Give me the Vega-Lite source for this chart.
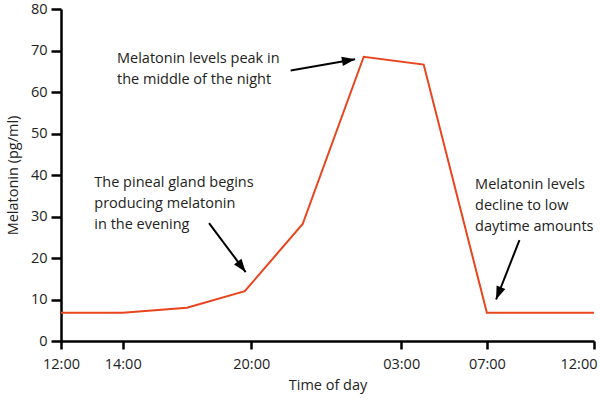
{
  "$schema": "https://vega.github.io/schema/vega-lite/v6.json",
  "autosize": "none",
  "width": 533,
  "height": 332,
  "padding": {"left": 61, "top": 9, "right": 6, "bottom": 59},
  "background": "white",
  "config": {
    "view": {"stroke": null},
    "font": "Open Sans"
  },
  "datasets": {
    "melatonin": [
      {"h": 0, "mel": 6.8},
      {"h": 2, "mel": 6.8},
      {"h": 5, "mel": 8.0},
      {"h": 7.7, "mel": 12.0},
      {"h": 10.4, "mel": 28.2},
      {"h": 13.25, "mel": 68.5},
      {"h": 16.05, "mel": 66.6},
      {"h": 19, "mel": 6.8},
      {"h": 24, "mel": 6.8}
    ],
    "arrows": [
      {"id": 1, "h": 9.84, "v": 65.2, "h2": 12.85, "v2": 67.9},
      {"id": 2, "h": 6.03, "v": 28.4, "h2": 7.74, "v2": 16.6},
      {"id": 3, "h": 20.52, "v": 24.3, "h2": 19.43, "v2": 10.0}
    ],
    "notes": [
      {"h": 1.815, "v": 67.0, "text": ["Melatonin levels peak in", "the middle of the night"]},
      {"h": 1.08, "v": 37.0, "text": ["The pineal gland begins", "producing melatonin", "in the evening"]},
      {"h": 18.45, "v": 36.7, "text": ["Melatonin levels", "decline to low", "daytime amounts"]}
    ]
  },
  "encoding": {
    "x": {
      "field": "h",
      "type": "quantitative",
      "scale": {"domain": [0, 2, 24], "range": [0, 61.7, 533], "nice": false, "zero": false},
      "axis": {
        "title": "Time of day",
        "values": [0, 2, 8, 15, 19, 24],
        "labelExpr": "datum.value == 0 ? '12:00' : datum.value == 2 ? '14:00' : datum.value == 8 ? '20:00' : datum.value == 15 ? '03:00' : datum.value == 19 ? '07:00' : '12:00'",
        "grid": false,
        "domainColor": "black",
        "domainWidth": 2.5,
        "tickColor": "black",
        "tickWidth": 2.5,
        "tickSize": 8,
        "labelFont": "Open Sans",
        "labelFontSize": 14.5,
        "labelColor": "#222",
        "labelPadding": 8,
        "labelFlush": false,
        "labelOverlap": false,
        "labelAlign": {"expr": "datum.value == 24 ? 'right' : 'center'"},
        "labelOffset": {"expr": "datum.value == 24 ? 3 : 0"},
        "titleFont": "Open Sans",
        "titleFontSize": 14.5,
        "titleFontWeight": "normal",
        "titleColor": "#222",
        "titlePadding": 8
      }
    },
    "y": {
      "field": "v",
      "type": "quantitative",
      "scale": {"domain": [0, 80], "nice": false},
      "axis": {
        "title": "Melatonin (pg/ml)",
        "values": [0, 10, 20, 30, 40, 50, 60, 70, 80],
        "grid": false,
        "domainColor": "black",
        "domainWidth": 2.5,
        "tickColor": "black",
        "tickWidth": 2.5,
        "tickSize": 10,
        "labelFont": "Open Sans",
        "labelFontSize": 14.5,
        "labelColor": "#222",
        "labelPadding": 4,
        "labelFlush": false,
        "labelOverlap": false,
        "titleFont": "Open Sans",
        "titleFontSize": 14.5,
        "titleFontWeight": "normal",
        "titleColor": "#222",
        "titlePadding": 10
      }
    }
  },
  "layer": [
    {
      "data": {"name": "melatonin"},
      "mark": {"type": "line", "color": "#e8441d", "strokeWidth": 2},
      "encoding": {
        "y": {"field": "mel", "type": "quantitative"}
      }
    },
    {
      "data": {"name": "arrows"},
      "mark": {"type": "rule", "color": "black", "strokeWidth": 2},
      "encoding": {
        "x2": {"field": "h2"},
        "y2": {"field": "v2"}
      }
    },
    {
      "data": {"name": "arrows"},
      "transform": [{"filter": "datum.id == 1"}],
      "mark": {"type": "point", "shape": "M0,0L0.85,2.4L-0.85,2.4Z", "size": 121, "filled": true, "color": "black", "opacity": 1, "angle": 80.3},
      "encoding": {
        "x": {"field": "h2", "type": "quantitative"},
        "y": {"field": "v2", "type": "quantitative"}
      }
    },
    {
      "data": {"name": "arrows"},
      "transform": [{"filter": "datum.id == 2"}],
      "mark": {"type": "point", "shape": "M0,0L0.85,2.4L-0.85,2.4Z", "size": 121, "filled": true, "color": "black", "opacity": 1, "angle": 143},
      "encoding": {
        "x": {"field": "h2", "type": "quantitative"},
        "y": {"field": "v2", "type": "quantitative"}
      }
    },
    {
      "data": {"name": "arrows"},
      "transform": [{"filter": "datum.id == 3"}],
      "mark": {"type": "point", "shape": "M0,0L0.85,2.4L-0.85,2.4Z", "size": 121, "filled": true, "color": "black", "opacity": 1, "angle": 201.5},
      "encoding": {
        "x": {"field": "h2", "type": "quantitative"},
        "y": {"field": "v2", "type": "quantitative"}
      }
    },
    {
      "data": {"name": "notes"},
      "mark": {"type": "text", "align": "left", "baseline": "alphabetic", "font": "Open Sans", "fontSize": 14.5, "lineHeight": 21, "color": "#222"},
      "encoding": {
        "text": {"field": "text"}
      }
    }
  ]
}
